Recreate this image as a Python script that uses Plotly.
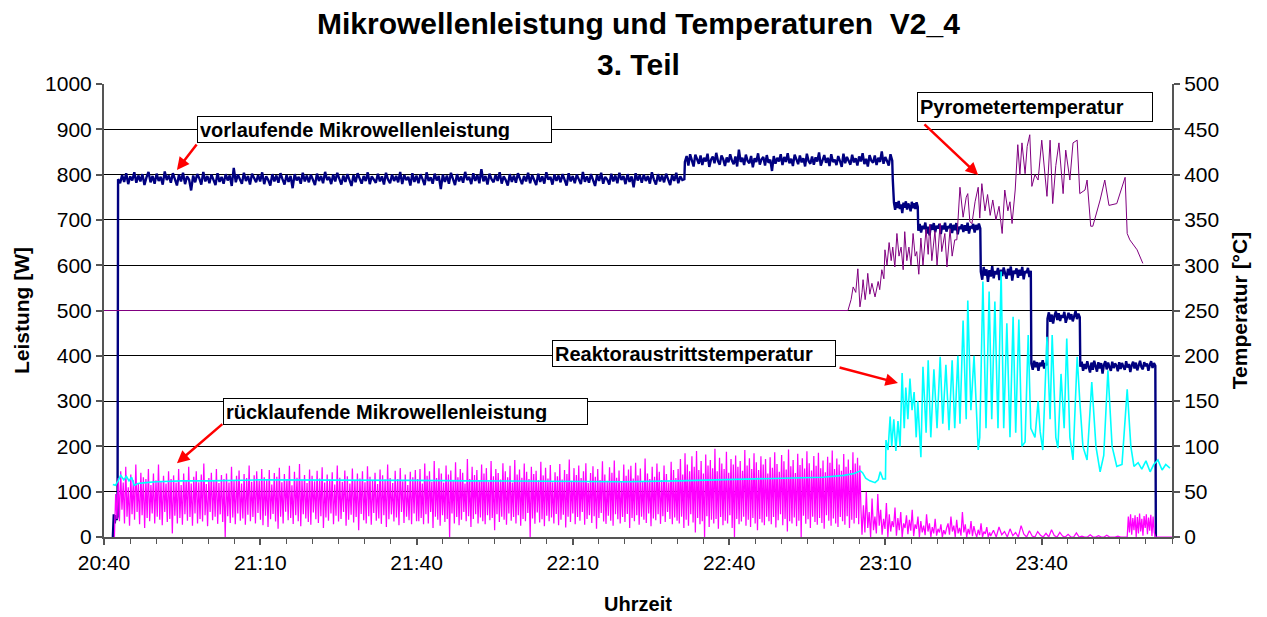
import numpy as np
import plotly.graph_objects as go

# ---------------- data ----------------
# time axis in minutes after 20:40
tick_minutes = [0, 30, 60, 90, 120, 150, 180]
tick_labels = ["20:40", "21:10", "21:40", "22:10", "22:40", "23:10", "23:40"]

# forward microwave power [W] (vorlaufende Mikrowellenleistung), segments
fwd_start = [0, 50, 30, 48, 38, 45]
fwd_a = [790,781,799,784,803,779,796,787,805,782,798,785,801,777,794,806,783,797,780,802,
         786,795,778,807,788,798,782,803,790,776,800,785,804,779,796,789,765,798,783,801,
         792,778,806,785,797,781,800,789,777,803,784,795,780,801,787,798,775,815,783,800,
         789,780,804,786,797,778,802,791,783,799,785,805,779,796,788,776,801,785,798,782,
         803,790,778,799,784,797,770,801,787,795,780,804,785,798,783,800,790,777,802,786,
         797,781,806,788,795,779,800,785,804,791,778,798,784,801,787,775,799,783,803,789,
         780,797,786,805,779,796,788,782,802,785,796,778,804,789,781,800,786,797,783,806,
         779,799,788,795,776,803,784,798,781,801,790,777,805,786,794,780,802,787,797,768,
         800,784,798,780,804,789,777,801,785,796,782,806,788,795,779,803,786,799,781,812,
         785,797,778,802,790,783,799,786,805,780,796,788,776,801,784,798,782,803,789,779,
         797,785,804,781,799,787,777,802,784,796,780,805,789,795,778,800,786,798,783,801,
         788,776,803,785,797,781,800,790,779,806,784,796,782,801,787,775,799,786,804,780,
         795,789,778,802,785,798,781,804,788,797,779,801,784,796,772,803,787,799,782,800,
         786,797,780,805,789,778,801,785,798,783,802,790,777,799,786,804,781,796,788,790]
fwd_b = [828,841,820,845,832,818,844,835,824,842,821,837,829,846,817,833,840,825,848,830,
         822,842,834,819,838,827,845,831,823,840,818,855,828,837,821,844,830,825,841,816,
         836,828,847,822,834,839,820,843,826,833,808,841,824,837,829,845,821,839,828,847,
         825,835,819,844,831,823,842,827,836,818,846,830,824,840,822,838,829,849,820,834,
         843,826,837,819,845,828,833,821,841,830,817,846,825,839,832,822,844,827,836,820,
         840,829,847,823,835,818,843,831,826,842,821,837,828,851,824,839,830,820,845,831]
fwd_c = [790,738,722,739,726,742,724,734,715,738,727,741,723,736,730,719,740,726,737,724,739,729]
fwd_d = [676,691,672,687,680,694,670,685,666,690,678,693,673,687,681,691,669,688,679,694,674,686,682,
         692,671,689,677,693,668,685,680,690,673,688,676,694,670,686,683,691,672,689,678,692,681]
fwd_e = [586,568,596,577,591,563,589,575,598,571,587,580,594,567,590,576,595,582,570,592,578,597,566,588,
         581,593,572,590,577,596,569,587,583,594,574,588]
fwd_f = [383,369,389,375,386,367,385,377,390,372,384,379]
fwd_g = [482,496,475,491,471,489,498,479,494,477,490,484,497,473,488,495,480,492,476,489,499,481,493,485]
fwd_h = [376,387,367,382,371,388,374,363,385,369,389,377,365,386,372,384,361,380,388,370,385,375,367,387,373,
         383,378,366,386,371,384,376,369,388,374,382,364,379,387,372,385,368,381,389,375,370,386,377,383,367,
         380,388,373,384,378]
fwd_segments = [(1.7, 2.6, fwd_start), (2.7, 111.4, fwd_a), (111.5, 151.3, fwd_b), (151.4, 156.2, fwd_c),
                (156.3, 168.2, fwd_d), (168.3, 177.9, fwd_e), (178.0, 181.0, fwd_f), (181.1, 187.3, fwd_g),
                (187.4, 201.8, fwd_h), (201.9, 201.9, [0])]

# reflected microwave power [W] (ruecklaufende Mikrowellenleistung)
refl_a = [0,
          95,40,130,35,145,60,120,30,155,45,110,25,138,50,125,38,160,55,118,28,
          142,48,132,20,128,42,150,35,115,52,140,30,125,45,160,38,122,26,135,55,
          118,33,145,40,128,8,136,47,120,30,150,42,115,27,140,50,126,36,155,44,
          118,25,133,52,145,30,121,40,138,34,162,48,117,24,130,55,142,37,125,45,
          150,29,119,50,137,33,128,0,140,46,120,31,155,43,126,28,135,52,147,36,
          118,41,139,27,130,49,158,35,122,44,136,30,145,53,124,38,150,26,132,47,
          127,22,148,39,116,51,141,34,133,18,153,45,121,30,139,56,128,37,157,42,
          114,29,144,48,131,35,161,24,125,50,137,41,119,33,149,27,135,54,123,39,
          146,31,129,46,154,20,120,43,138,36,127,52,143,28,116,47,158,34,131,40,
          122,55,147,25,134,38,118,49,151,32,126,44,140,15,129,51,145,37,121,30,
          156,46,133,27,124,53,142,36,117,41,149,29,136,48,127,22,160,39,130,50,
          119,34,146,43,128,26,152,55,123,31,138,45,115,37,144,28,132,52,148,35]
refl_b = [128,35,150,42,118,28,162,50,135,30,145,55,122,20,168,45,130,38,152,25,
          140,48,120,33,158,40,138,0,147,52,125,30,165,44,132,26,150,38,142,55,
          118,35,172,46,128,22,155,40,137,50,148,30,126,43,160,35,140,28,152,48,
          122,37,168,42,134,15,150,50,141,33,127,45,163,38,145,27,132,52,157,36,
          120,44,170,30,138,48,149,25,131,40,162,35,144,53,128,0,155,41,139,29,
          146,54,125,32,166,39,136,24,153,47,129,35,159,43,121,30,143,51,134,26,
          161,38,127,49,148,21,139,45,171,33,124,52,152,28,137,44,158,36,130,55,
          145,27,163,40,119,48,141,31,156,46,133,18,150,42,126,53,167,34,138,29,
          124,47,154,36,142,25,169,50,131,39,147,30,122,44,160,33,135,51,149,20,
          157,42,129,35,164,48,136,27,151,45,123,38,173,31,140,52,128,24,155,41,
          133,37,162,50,144,29,126,46,158,33,139,55,121,40,166,28,148,43,130,36]
refl_c = [150,30,172,45,138,20,185,38,160,25,145,50,178,32,155,10,190,42,148,28,
          168,35,140,0,182,46,158,22,170,38,152,30,195,40,145,18,175,44,162,26,
          150,36,188,30,142,48,172,20,160,0,180,40,155,28,168,34,146,45,192,25,
          158,38,174,22,150,42,185,30,165,15,148,40,178,32,160,26,172,45,140,35,
          176,28,153,44,187,21,161,37,144,50,181,26,167,40,149,12,193,35,156,30,
          170,43,141,24,184,36,159,0,174,47,151,29,189,39,163,20,147,45,179,33,
          157,27,186,42,152,31,169,18,143,48,177,36,164,25,191,41,150,30,173,22,
          160,44,146,35,183,27,155,46,171,20,148,38,187,30,162,42,175,28,158,60]
refl_d = [5,70,10,100,20,55,0,85,15,45,8,95,25,60,5,40,18,75,0,50,
          12,35,22,65,3,42,15,55,0,30,20,48,6,38,14,60,2,28,18,45,
          0,35,10,25,4,50,12,30,0,22,8,40,3,18,10,28,0,15,6,20,
          30,5,45,12,25,0,38,8,20,3,55,10,28,0,18,6,35,2,24,9,
          0,16,4,30,0,12,7,22,0,10]
refl_e = [2,15,0,22,5,12,0,18,3,10,0,25,6,0,14,2,0,12,4,0,8,0,16,3,0,10,2,0,6,0,
          0,9,0,2,0,0,5,0,0,3,0,0,4,0,0,0,2,0,0,0]
refl_f = [0,45,10,50,5,42,15,48,0,44,8,52,12,40,3,46,20,50,6,43,14,49,2,45,10,0]
refl_end = [0, 0]
refl_segments = [(2.0, 60.0, refl_a), (60.2, 110.0, refl_b), (110.2, 145.3, refl_c), (145.5, 170.0, refl_d),
                 (170.2, 196.2, refl_e), (196.4, 201.8, refl_f), (202.0, 205.0, refl_end)]

# reactor outlet temperature [degC] (Reaktoraustrittstemperatur)
cyan_t = [1.7,2.2,2.7,3.2,3.8,4.3,4.8,5.3,5.8,6.5,8,10,15,20,30,40,50,60,70,80,90,100,110,120,130,138,142,144,145.2,145.6,
          146.2,147,148,148.6,149,149.5,150,
          150.1,150.5,150.9,151.2,151.6,152.0,152.4,152.8,153.2,153.6,153.9,154.3,154.7,155.1,155.5,155.9,156.2,156.8,
          157.2,157.8,158.2,158.7,159.3,159.9,160.5,161.0,161.6,162.2,162.8,163.3,163.9,164.3,164.9,165.5,165.8,166.4,
          167.0,167.8,168.1,168.7,169.3,169.9,170.4,171.0,171.6,172.2,172.7,173.3,173.9,174.5,175.0,175.6,176.2,176.8,
          177.4,177.9,178.7,179.3,179.7,180.2,181.0,181.6,182.0,182.7,183.1,183.7,184.3,184.8,185.4,186.0,186.8,187.3,
          187.9,188.7,189.6,190.4,191.2,191.9,192.7,193.5,194.4,195.4,196.4,197.1,197.7,198.5,199.2,200.0,200.8,201.5,
          202.3,203.1,203.8,204.6]
cyan_v = [58,57,62,68,63,67,62,66,57,59,60,61,62,62,63,63,63,62.5,62,61.5,61,61,62,63.5,65,66,68,70,73,71,
          65,62,60,63,72,64,64,
          107,96,133,100,130,95,128,100,181,120,165,130,175,140,160,110,150,88,
          188,115,195,110,185,120,199,125,190,118,195,120,200,125,239,130,261,140,
          200,96,110,282,120,271,130,260,120,293,120,236,110,243,115,240,100,105,
          223,120,110,150,116,96,221,130,223,110,98,180,120,219,110,85,199,150,
          100,85,171,100,72,90,184,100,78,80,163,100,78,82,75,84,72,80,
          85,74,80,76]

# pyrometer temperature [degC] (Pyrometertemperatur)
pyro_t = [0,142.8,143.4,143.8,144.3,144.7,145.1,145.5,145.7,146.1,146.4,146.6,147.0,147.4,148.0,148.6,148.9,149.3,149.7,149.9,
          150.3,150.7,151.1,151.4,151.8,152.2,152.6,153.0,153.4,153.7,154.1,154.5,154.9,155.3,155.7,156.0,156.4,156.8,157.2,
          157.8,158.2,158.5,158.9,159.5,159.9,160.5,160.8,161.4,161.8,162.4,162.8,163.3,163.7,164.3,164.9,165.5,165.8,166.2,
          166.6,167.2,167.8,168.1,168.5,169.1,169.6,170.1,170.6,171.2,171.8,172.4,172.9,173.5,173.9,174.3,174.9,175.4,175.8,
          176.2,176.8,177.2,177.7,178.1,178.7,179.3,180.0,180.6,181.0,181.6,182.1,182.7,183.3,184.1,184.6,185.4,186.0,186.8,
          187.3,188.3,188.7,189.4,189.8,191.2,192.1,192.9,194.4,196.0,196.4,196.9,198.3,199.4]
pyro_v = [250,250,262,276,270,296,254,270,284,262,276,291,268,280,265,282,273,295,285,317,
          300,325,305,320,298,335,310,320,295,337,305,320,300,335,310,315,290,330,300,
          340,312,345,305,338,300,346,315,335,298,340,310,328,328,386,353,375,379,348,
          346,370,386,352,390,360,378,355,372,350,365,335,383,360,370,346,383,433,400,
          435,401,431,444,387,400,394,438,400,376,438,368,410,435,379,427,394,435,438,
          379,383,394,343,343,372,394,366,368,397,335,328,317,302]

title_line1 = "Mikrowellenleistung und Temperaturen\u00a0 V2_4"
title_line2 = "3. Teil"


def build(segments):
    tt, vv = [], []
    for t0, t1, vals in segments:
        tt.extend(np.linspace(t0, t1, len(vals)).tolist())
        vv.extend(vals)
    return tt, vv


fwd_t, fwd_v = build(fwd_segments)
refl_t, refl_v = build(refl_segments)

FONT = "Liberation Sans, Arial, sans-serif"
AXC = "#555555"

fig = go.Figure()
fig.add_trace(go.Scatter(x=fwd_t, y=fwd_v, mode="lines", line=dict(color="#000080", width=2.4),
                         name="vorlaufende Mikrowellenleistung", yaxis="y"))
fig.add_trace(go.Scatter(x=refl_t, y=refl_v, mode="lines", line=dict(color="#FF00FF", width=1.25),
                         name="rücklaufende Mikrowellenleistung", yaxis="y"))
fig.add_trace(go.Scatter(x=pyro_t, y=pyro_v, mode="lines", line=dict(color="#800080", width=1),
                         name="Pyrometertemperatur", yaxis="y2"))
fig.add_trace(go.Scatter(x=cyan_t, y=cyan_v, mode="lines", line=dict(color="#00FFFF", width=1.6),
                         name="Reaktoraustrittstemperatur", yaxis="y2"))

# label boxes (paper coordinates) and arrows (data coordinates)
boxes = [
    ("vorlaufende Mikrowellenleistung", 0.0871, 0.929, 349, 21),
    ("Pyrometertemperatur", 0.7612, 0.982, 230, 24),
    ("Reaktoraustrittstemperatur", 0.4195, 0.435, 278, 21),
    ("rücklaufende Mikrowellenleistung", 0.1114, 0.307, 359, 21),
]
annotations = [
    dict(text="<b>" + title_line1 + "</b>", xref="paper", yref="paper", x=0.5, y=1.1325, xanchor="center",
         yanchor="middle", showarrow=False, font=dict(family=FONT, size=30, color="black")),
    dict(text="<b>" + title_line2 + "</b>", xref="paper", yref="paper", x=0.5, y=1.044, xanchor="center",
         yanchor="middle", showarrow=False, font=dict(family=FONT, size=30, color="black")),
]
for text, bx, by, w, h in boxes:
    annotations.append(dict(text="<b>" + text + "</b>", xref="paper", yref="paper", x=bx, y=by,
                            xanchor="left", yanchor="top", showarrow=False, align="left",
                            width=w, height=h, bgcolor="white", bordercolor="#000000", borderwidth=1,
                            borderpad=2, font=dict(family=FONT, size=20, color="black")))
arrows = [(18.0, 870, 14.0, 810), (157.2, 914, 167.8, 799), (140.9, 375, 152.4, 340), (23.0, 252, 14.0, 163)]
for ax_, ay_, x_, y_ in arrows:
    annotations.append(dict(text="", x=x_, y=y_, ax=ax_, ay=ay_, xref="x", yref="y", axref="x", ayref="y",
                            showarrow=True, arrowhead=2, arrowsize=1, arrowwidth=2.5, arrowcolor="#FF0000",
                            standoff=0, startstandoff=0))

fig.update_layout(
    width=1267, height=617,
    margin=dict(l=104, r=95, t=84, b=80, autoexpand=False),
    paper_bgcolor="white", plot_bgcolor="white",
    showlegend=False,
    font=dict(family=FONT, size=21, color="black"),
    xaxis=dict(range=[0, 205], tickmode="array", tickvals=tick_minutes, ticktext=tick_labels,
               ticks="outside", ticklen=6, tickwidth=1.5, tickcolor=AXC, showline=True, linecolor=AXC, linewidth=2,
               showgrid=False, zeroline=False,
               minor=dict(tickmode="linear", tick0=0, dtick=5, ticks="outside", ticklen=5, tickcolor=AXC,
                          tickwidth=1, showgrid=False),
               title=dict(text="<b>Uhrzeit</b>", font=dict(family=FONT, size=20), standoff=24),
               tickfont=dict(family=FONT, size=21)),
    yaxis=dict(range=[0, 1000], dtick=100, tick0=0, ticks="outside", ticklen=6, tickwidth=1.5, tickcolor=AXC,
               showline=True, linecolor=AXC, linewidth=2, showgrid=True, gridcolor="#000000", gridwidth=1,
               zeroline=False, title=dict(text="<b>Leistung [W]</b>", font=dict(family=FONT, size=21), standoff=10),
               tickfont=dict(family=FONT, size=21)),
    yaxis2=dict(range=[0, 500], dtick=50, tick0=0, overlaying="y", side="right", ticks="outside", ticklen=6,
                tickwidth=1.5, tickcolor=AXC, showline=True, linecolor=AXC, linewidth=2, showgrid=False,
                zeroline=False, title=dict(text="<b>Temperatur [°C]</b>", font=dict(family=FONT, size=21), standoff=14),
                tickfont=dict(family=FONT, size=21)),
    annotations=annotations,
)

fig.write_html("out.html", config={"displayModeBar": False},
               post_script="document.body.style.margin='0px';document.body.style.overflow='hidden';")
